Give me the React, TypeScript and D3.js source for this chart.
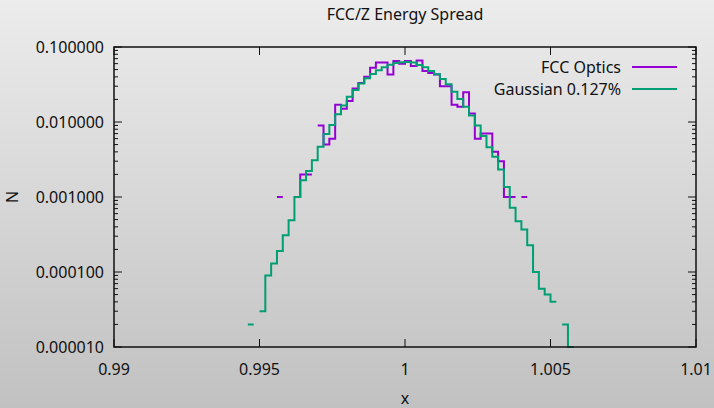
import React from "react";
import * as d3 from "d3";

// Bin left edges start at 0.9946, width 0.0002
const binStart = 0.9946;
const binWidth = 0.0002;

// Gaussian 0.127% (per bin, from 0.9946 to 1.0056)
const gaussianValues = [
  2e-5, 0, 3e-5, 9e-5, 1.3e-4, 1.9e-4, 3.1e-4, 4.9e-4, 1.0e-3, 1.67e-3,
  2.23e-3, 3.1e-3, 4.66e-3, 6.9e-3, 9.1e-3, 1.27e-2, 1.66e-2, 2.17e-2, 2.67e-2, 3.27e-2,
  3.82e-2, 4.35e-2, 4.9e-2, 5.35e-2, 5.8e-2, 6.1e-2, 6.25e-2, 6.3e-2, 6.2e-2, 5.75e-2,
  5.36e-2, 4.79e-2, 4.32e-2, 3.75e-2, 3.18e-2, 2.54e-2, 2.03e-2, 1.6e-2, 1.22e-2, 9.0e-3,
  6.5e-3, 4.6e-3, 3.43e-3, 2.32e-3, 1.36e-3, 7.2e-4, 4.74e-4, 3.7e-4, 2.27e-4, 1.0e-4,
  6e-5, 5e-5, 4e-5, 0, 2e-5, 1e-5,
];

// FCC Optics (per bin, same edges)
const fccValues = [
  0, 0, 0, 0, 0, 0.001, 0, 0, 0.001, 0.002,
  0.002, 0, 0.009, 0.005, 0.006, 0.017, 0.015, 0.019, 0.028, 0.033,
  0.040, 0.053, 0.062, 0.062, 0.043, 0.065, 0.060, 0.065, 0.056, 0.066,
  0.048, 0.045, 0.043, 0.030, 0.030, 0.017, 0.016, 0.025, 0.013, 0.006,
  0.007, 0.007, 0.004, 0.003, 0.001, 0.001, 0, 0.001, 0, 0,
  0, 0, 0, 0, 0, 0,
];

const xTicks = [0.99, 0.995, 1, 1.005, 1.01];
const xTickLabels = ["0.99", "0.995", "1", "1.005", "1.01"];
const yTicks = [1e-5, 1e-4, 1e-3, 1e-2, 1e-1];
const yTickLabels = ["0.000010", "0.000100", "0.001000", "0.010000", "0.100000"];

const seriesNames = ["FCC Optics", "Gaussian 0.127%"];
const seriesColors = ["#9400d3", "#009e73"];

const W = 714;
const H = 408;
const L = 114;
const R = 696;
const T = 47;
const B = 347;
const FONT = "'Noto Sans', sans-serif";
const FS = 16;

function stepPath(values: number[], x: d3.ScaleLinear<number, number>, y: d3.ScaleLogarithmic<number, number>) {
  let d = "";
  let prev = 0;
  values.forEach((v, i) => {
    const x0 = x(binStart + i * binWidth);
    const x1 = x(binStart + (i + 1) * binWidth);
    if (v > 0) {
      if (prev > 0) d += `L${x0},${y(v)}`;
      else d += `M${x0},${y(v)}`;
      d += `L${x1},${y(v)}`;
    }
    prev = v;
  });
  return d;
}

export default function App() {
  const x = d3.scaleLinear().domain([0.99, 1.01]).range([L, R]);
  const y = d3.scaleLog().domain([1e-5, 0.1]).range([B, T]);

  const minor: number[] = [];
  for (let e = -5; e < -1; e++) {
    for (let k = 2; k <= 9; k++) minor.push(k * Math.pow(10, e));
  }

  const fccPath = stepPath(fccValues, x, y);
  const gauPath = stepPath(gaussianValues, x, y);

  return (
    <svg
      width={W}
      height={H}
      style={{ position: "absolute", left: 0, top: 0 }}
      fontFamily={FONT}
    >
      <defs>
        <linearGradient id="bg" x1="0" y1="0" x2="0" y2="1">
          <stop offset="0" stopColor="#ececec" />
          <stop offset="1" stopColor="#c1c1c1" />
        </linearGradient>
        <clipPath id="plot">
          <rect x={L} y={T - 1} width={R - L} height={B - T + 2} />
        </clipPath>
      </defs>
      <rect x={0} y={0} width={W} height={H} fill="url(#bg)" />

      {/* title */}
      <text x={405} y={14} textAnchor="middle" dominantBaseline="central" fontSize={FS} fill="#111">
        FCC/Z Energy Spread
      </text>

      {/* ticks */}
      <g stroke="#111" strokeWidth={1}>
        {xTicks.map((t) => (
          <g key={"xt" + t}>
            <line x1={x(t)} x2={x(t)} y1={B} y2={B - 8} />
            <line x1={x(t)} x2={x(t)} y1={T} y2={T + 8} />
          </g>
        ))}
        {yTicks.map((t) => (
          <g key={"yt" + t}>
            <line x1={L} x2={L + 8} y1={y(t)} y2={y(t)} />
            <line x1={R} x2={R - 8} y1={y(t)} y2={y(t)} />
          </g>
        ))}
        {minor.map((t) => (
          <g key={"ym" + t}>
            <line x1={L} x2={L + 4} y1={y(t)} y2={y(t)} />
            <line x1={R} x2={R - 4} y1={y(t)} y2={y(t)} />
          </g>
        ))}
      </g>

      {/* tick labels */}
      {xTicks.map((t, i) => (
        <text key={"xl" + t} x={x(t)} y={369} textAnchor="middle" dominantBaseline="central" fontSize={FS} fill="#111">
          {xTickLabels[i]}
        </text>
      ))}
      {yTicks.map((t, i) => (
        <text key={"yl" + t} x={104} y={y(t)} textAnchor="end" dominantBaseline="central" fontSize={FS} fill="#111">
          {yTickLabels[i]}
        </text>
      ))}

      {/* axis titles */}
      <text x={405} y={398} textAnchor="middle" dominantBaseline="central" fontSize={FS} fill="#111">
        x
      </text>
      <g transform="translate(12,197) rotate(-90)">
        <text x={0} y={0} textAnchor="middle" dominantBaseline="central" fontSize={FS} fill="#111">
          N
        </text>
      </g>

      {/* data */}
      <g clipPath="url(#plot)" fill="none" strokeWidth={2} strokeLinejoin="miter">
        <path d={fccPath} stroke={seriesColors[0]} />
        <path d={gauPath} stroke={seriesColors[1]} />
      </g>

      {/* legend */}
      {seriesNames.map((n, i) => (
        <g key={n}>
          <text x={621} y={67 + i * 22} textAnchor="end" dominantBaseline="central" fontSize={FS} fill="#111">
            {n}
          </text>
          <line x1={632} x2={677} y1={67 + i * 22} y2={67 + i * 22} stroke={seriesColors[i]} strokeWidth={2} />
        </g>
      ))}

      {/* frame */}
      <rect x={L} y={T} width={R - L} height={B - T} fill="none" stroke="#111" strokeWidth={1.5} />
    </svg>
  );
}
